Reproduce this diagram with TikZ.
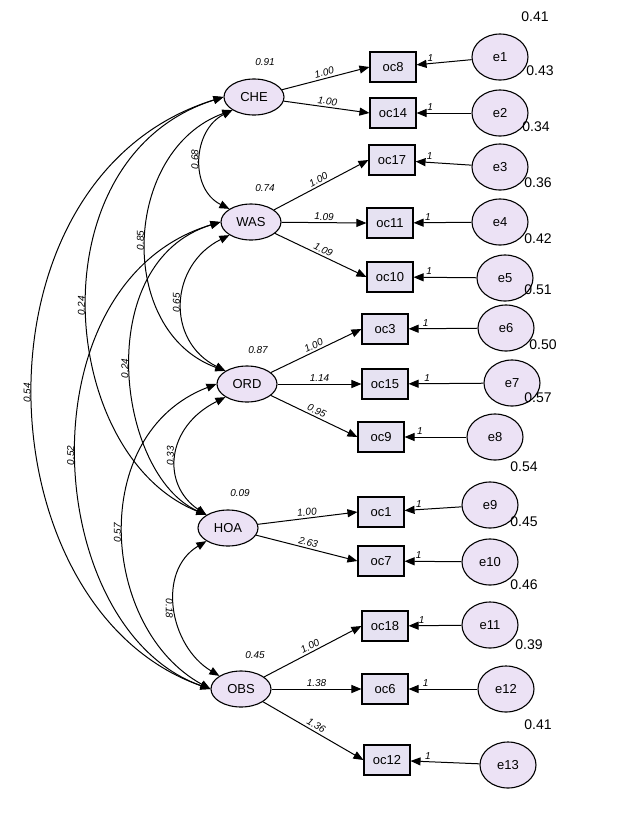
\documentclass[tikz,border=0pt]{standalone}
\usepackage{fontspec}
\setmainfont{Liberation Sans}
\usetikzlibrary{arrows.meta,shapes.geometric}
\begin{document}
\begin{tikzpicture}[x=1pt,y=-1pt,
 lat/.style={ellipse,draw,line width=1.1pt,fill=lav,minimum width=60,minimum height=36,inner sep=0,font=\fontsize{13}{13}\selectfont},
 err/.style={ellipse,draw,line width=1.1pt,fill=lav,minimum width=56,minimum height=46,inner sep=0,font=\fontsize{13}{13}\selectfont},
 obs/.style={rectangle,draw,line width=1.1pt,fill=box,minimum width=46,minimum height=30,inner sep=0,font=\fontsize{13}{13}\selectfont},
 arr/.style={-{Triangle[length=10,width=8]},line width=1pt},
 cov/.style={{Triangle[length=10,width=8]}-{Triangle[length=10,width=8]},line width=1pt},
 lbl/.style={font=\fontsize{10}{10}\selectfont\itshape,inner sep=2},
 var/.style={font=\fontsize{14}{14}\selectfont}]
\definecolor{lav}{HTML}{ECE2F5}
\definecolor{box}{HTML}{E6E2F2}
\useasboundingbox (0,0) rectangle (636,820);
% latent
\node[lat] (CHE) at (254,97) {CHE};
\node[lat] (WAS) at (251,222) {WAS};
\node[lat] (ORD) at (247,384) {ORD};
\node[lat] (HOA) at (228,528) {HOA};
\node[lat] (OBS) at (241,689) {OBS};
\node[lbl] at (265,62) {0.91};
\node[lbl] at (265,188) {0.74};
\node[lbl] at (258,350) {0.87};
\node[lbl] at (240,493) {0.09};
\node[lbl] at (255,655) {0.45};
% observed
\foreach \n/\x/\y in {oc8/393/67,oc14/393/113,oc17/392/160,oc11/390/223,oc10/390/277,oc3/385/329,oc15/385/384,oc9/381/437,oc1/381/512,oc7/381/561,oc18/385/626,oc6/385/689,oc12/387/760}
  \node[obs] (\n) at (\x,\y) {\n};
% errors
\foreach \n/\x/\y/\v/\vx/\vy in {e1/500/57/0.41/535/17,e2/500/113/0.43/540/71,e3/500/167/0.34/536/127,e4/500/222/0.36/538/183,e5/505/278/0.42/538/239,e6/506/328/0.51/538/290,e7/512/383/0.50/543/345,e8/495/437/0.57/538/398,e9/490/505/0.54/524/467,e10/490/562/0.45/524/522,e11/490/625/0.46/524/585,e12/506/689/0.39/529/645,e13/508/765/0.41/538/725}
  {\node[err] (\n) at (\x,\y) {\n};
   \node[var] at (\vx,\vy) {\v};}
\foreach \e/\o in {e1/oc8,e2/oc14,e3/oc17,e4/oc11,e5/oc10,e6/oc3,e7/oc15,e8/oc9,e9/oc1,e10/oc7,e11/oc18,e12/oc6,e13/oc12}
  \draw[arr] (\e) -- node[lbl,above,pos=0.75] {1} (\o);
% loadings
\draw[arr] (CHE) -- node[lbl,above,sloped] {1.00} (oc8.west);
\draw[arr] (CHE) -- node[lbl,above,sloped] {1.00} (oc14.west);
\draw[arr] (WAS) -- node[lbl,above,sloped] {1.00} (oc17.west);
\draw[arr] (WAS) -- node[lbl,above,sloped] {1.09} (oc11.west);
\draw[arr] (WAS) -- node[lbl,above,sloped] {1.09} (oc10.west);
\draw[arr] (ORD) -- node[lbl,above,sloped] {1.00} (oc3.west);
\draw[arr] (ORD) -- node[lbl,above,sloped] {1.14} (oc15.west);
\draw[arr] (ORD) -- node[lbl,above,sloped] {0.95} (oc9.west);
\draw[arr] (HOA) -- node[lbl,above,sloped] {1.00} (oc1.west);
\draw[arr] (HOA) -- node[lbl,above,sloped] {2.63} (oc7.west);
\draw[arr] (OBS) -- node[lbl,above,sloped] {1.00} (oc18.west);
\draw[arr] (OBS) -- node[lbl,above,sloped] {1.38} (oc6.west);
\draw[arr] (OBS) -- node[lbl,above,sloped] {1.36} (oc12.west);
% covariances
\draw[cov] (CHE.south west) .. controls +(-40,20) and +(-40,-20) .. node[lbl,rotate=90,anchor=south] {0.68} (WAS.north west);
\draw[cov] (CHE.south west) .. controls +(-110,40) and +(-110,-40) .. node[lbl,rotate=90,anchor=south] {0.85} (ORD.north west);
\draw[cov] (CHE.west) .. controls +(-190,60) and +(-150,-60) .. node[lbl,rotate=90,anchor=south] {0.24} (HOA.north west);
\draw[cov] (CHE.west) .. controls +(-260,80) and +(-230,-80) .. node[lbl,rotate=90,anchor=south] {0.54} (OBS.west);
\draw[cov] (WAS.south west) .. controls +(-60,30) and +(-60,-30) .. node[lbl,rotate=90,anchor=south] {0.65} (ORD.north west);
\draw[cov] (WAS.west) .. controls +(-130,40) and +(-90,-40) .. node[lbl,rotate=90,anchor=south] {0.24} (HOA.north west);
\draw[cov] (WAS.west) .. controls +(-200,60) and +(-170,-60) .. node[lbl,rotate=90,anchor=south] {0.52} (OBS.west);
\draw[cov] (ORD.south west) .. controls +(-60,30) and +(-45,-30) .. node[lbl,rotate=90,anchor=south] {0.33} (HOA.north west);
\draw[cov] (ORD.west) .. controls +(-130,50) and +(-110,-60) .. node[lbl,rotate=90,anchor=south] {0.57} (OBS.west);
\draw[cov] (HOA.south west) .. controls +(-50,30) and +(-50,-30) .. node[lbl,rotate=-90,anchor=north] {0.18} (OBS.north west);
\end{tikzpicture}
\end{document}
